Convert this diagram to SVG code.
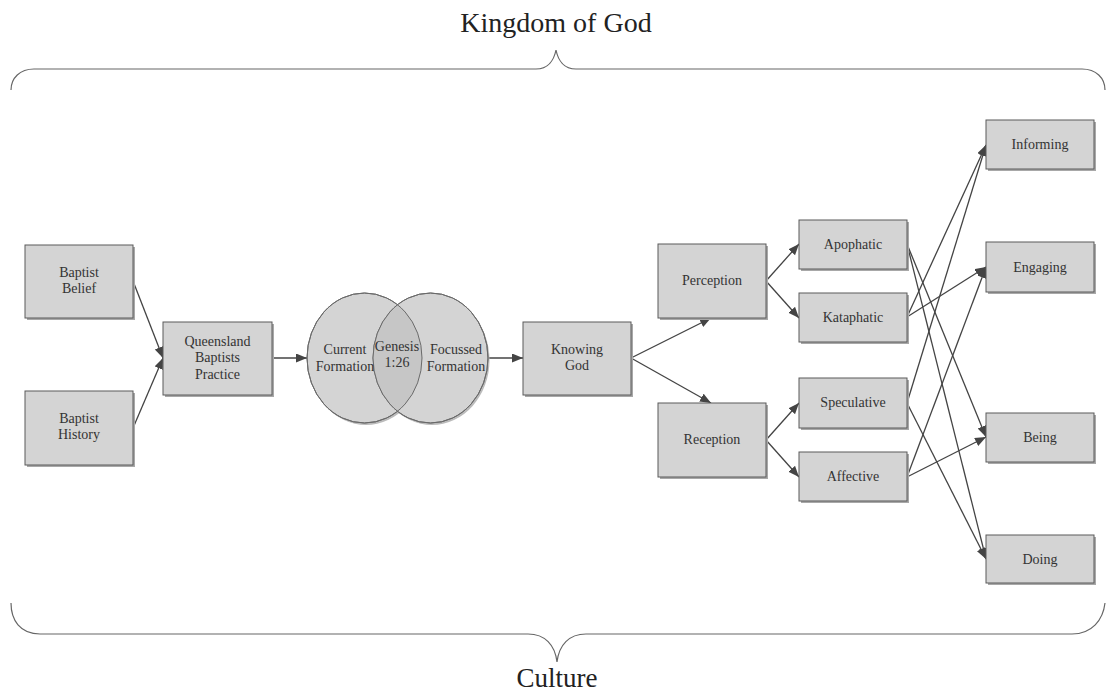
<svg xmlns="http://www.w3.org/2000/svg" width="1108" height="693" viewBox="0 0 1108 693">
  <style>
    .box { fill: #d4d4d4; stroke: #5a5a5a; stroke-width: 1; }
    .shadow { fill: #a8a8a8; }
    .lbl { font-family: "Liberation Serif", "Times New Roman", serif; font-size: 14px; fill: #333; text-anchor: middle; }
    .title { font-family: "Liberation Serif", "Times New Roman", serif; font-size: 28px; fill: #222; text-anchor: middle; }
    .edge { stroke: #444; stroke-width: 1.3; fill: none; marker-end: url(#arrow); }
    .brace { stroke: #666; stroke-width: 1.2; fill: none; }
    .circ { fill: #d4d4d4; stroke: #6a6a6a; stroke-width: 1; }
  </style>
  <defs>
    <marker id="arrow" markerUnits="userSpaceOnUse" markerWidth="12" markerHeight="10" refX="11" refY="4.5" orient="auto">
      <path d="M0,0 L11,4.5 L0,9 z" fill="#444"/>
    </marker>
    <clipPath id="leftClip">
      <ellipse cx="364.5" cy="358" rx="57.5" ry="65"/>
    </clipPath>
  </defs>
  <rect width="1108" height="693" fill="#fff"/>

  <!-- braces and outer labels -->
  <g id="kingdom">
    <text class="title" x="556" y="32">Kingdom of God</text>
    <path class="brace" d="M11,90 C11,78 20,69 34,69 L536,69 C548,69 554,60 556,50 C558,60 564,69 576,69 L1082,69 C1096,69 1105,78 1105,90"/>
  </g>
  <g id="culture">
    <path class="brace" d="M11,603 C11,620 20,634 40,634 L528,634 C545,634 555,645 557,662 C559,645 569,634 586,634 L1072,634 C1092,634 1103,620 1105,603"/>
    <text class="title" x="557" y="687" style="font-size:27px">Culture</text>
  </g>

  <!-- connectors -->
  <g id="connectors">
    <line class="edge" x1="133" y1="281" x2="163" y2="358"/>
    <line class="edge" x1="133" y1="428" x2="163" y2="358"/>
    <line class="edge" x1="272" y1="358" x2="307" y2="358"/>
    <line class="edge" x1="488" y1="358" x2="523" y2="358"/>
    <line class="edge" x1="631" y1="358" x2="711" y2="318"/>
    <line class="edge" x1="631" y1="358" x2="711" y2="403"/>
    <line class="edge" x1="766" y1="281" x2="799" y2="244"/>
    <line class="edge" x1="766" y1="281" x2="799" y2="318"/>
    <line class="edge" x1="766" y1="440" x2="799" y2="403"/>
    <line class="edge" x1="766" y1="440" x2="799" y2="477"/>
    <line class="edge" x1="907" y1="244" x2="986" y2="437"/>
    <line class="edge" x1="907" y1="244" x2="986" y2="559"/>
    <line class="edge" x1="907" y1="317" x2="986" y2="145"/>
    <line class="edge" x1="907" y1="317" x2="986" y2="267"/>
    <line class="edge" x1="907" y1="403" x2="986" y2="145"/>
    <line class="edge" x1="907" y1="403" x2="986" y2="559"/>
    <line class="edge" x1="907" y1="477" x2="986" y2="267"/>
    <line class="edge" x1="907" y1="477" x2="986" y2="437"/>
  </g>

  <!-- nodes -->
  <g id="baptist-belief">
    <rect class="shadow" x="27" y="247" width="108" height="73"/>
    <rect class="box" x="25" y="245" width="108" height="73"/>
    <text class="lbl" x="79" y="277">Baptist</text>
    <text class="lbl" x="79" y="293">Belief</text>
  </g>
  <g id="baptist-history">
    <rect class="shadow" x="27" y="393" width="108" height="74"/>
    <rect class="box" x="25" y="391" width="108" height="74"/>
    <text class="lbl" x="79" y="423">Baptist</text>
    <text class="lbl" x="79" y="439">History</text>
  </g>
  <g id="queensland-practice">
    <rect class="shadow" x="165" y="324" width="109" height="73"/>
    <rect class="box" x="163" y="322" width="109" height="73"/>
    <text class="lbl" x="217.5" y="346">Queensland</text>
    <text class="lbl" x="217.5" y="362">Baptists</text>
    <text class="lbl" x="217.5" y="379">Practice</text>
  </g>
  <g id="formation-venn">
    <ellipse cx="366" cy="360" rx="57.5" ry="65" fill="#bbb"/>
    <ellipse cx="432" cy="360" rx="57.5" ry="65" fill="#bbb"/>
    <ellipse class="circ" cx="364.5" cy="358" rx="57.5" ry="65"/>
    <ellipse class="circ" cx="430.5" cy="358" rx="57.5" ry="65"/>
    <ellipse cx="430.5" cy="358" rx="57.5" ry="65" fill="#c6c6c6" clip-path="url(#leftClip)"/>
    <ellipse cx="364.5" cy="358" rx="57.5" ry="65" fill="none" stroke="#6a6a6a" stroke-width="1"/>
    <ellipse cx="430.5" cy="358" rx="57.5" ry="65" fill="none" stroke="#6a6a6a" stroke-width="1"/>
    <text class="lbl" x="345" y="354">Current</text>
    <text class="lbl" x="345" y="371">Formation</text>
    <text class="lbl" x="397" y="351">Genesis</text>
    <text class="lbl" x="397" y="367">1:26</text>
    <text class="lbl" x="456" y="354">Focussed</text>
    <text class="lbl" x="456" y="371">Formation</text>
  </g>
  <g id="knowing-god">
    <rect class="shadow" x="525" y="324" width="108" height="73"/>
    <rect class="box" x="523" y="322" width="108" height="73"/>
    <text class="lbl" x="577" y="354">Knowing</text>
    <text class="lbl" x="577" y="370">God</text>
  </g>
  <g id="perception">
    <rect class="shadow" x="660" y="246" width="108" height="74"/>
    <rect class="box" x="658" y="244" width="108" height="74"/>
    <text class="lbl" x="712" y="285">Perception</text>
  </g>
  <g id="reception">
    <rect class="shadow" x="660" y="405" width="108" height="74"/>
    <rect class="box" x="658" y="403" width="108" height="74"/>
    <text class="lbl" x="712" y="444">Reception</text>
  </g>
  <g id="apophatic">
    <rect class="shadow" x="801" y="222" width="108" height="49"/>
    <rect class="box" x="799" y="220" width="108" height="49"/>
    <text class="lbl" x="853" y="249">Apophatic</text>
  </g>
  <g id="kataphatic">
    <rect class="shadow" x="801" y="295" width="108" height="49"/>
    <rect class="box" x="799" y="293" width="108" height="49"/>
    <text class="lbl" x="853" y="322">Kataphatic</text>
  </g>
  <g id="speculative">
    <rect class="shadow" x="801" y="380" width="108" height="50"/>
    <rect class="box" x="799" y="378" width="108" height="50"/>
    <text class="lbl" x="853" y="407">Speculative</text>
  </g>
  <g id="affective">
    <rect class="shadow" x="801" y="454" width="108" height="49"/>
    <rect class="box" x="799" y="452" width="108" height="49"/>
    <text class="lbl" x="853" y="481">Affective</text>
  </g>
  <g id="informing">
    <rect class="shadow" x="988" y="122" width="108" height="49"/>
    <rect class="box" x="986" y="120" width="108" height="49"/>
    <text class="lbl" x="1040" y="149">Informing</text>
  </g>
  <g id="engaging">
    <rect class="shadow" x="988" y="244" width="108" height="50"/>
    <rect class="box" x="986" y="242" width="108" height="50"/>
    <text class="lbl" x="1040" y="272">Engaging</text>
  </g>
  <g id="being">
    <rect class="shadow" x="988" y="415" width="108" height="49"/>
    <rect class="box" x="986" y="413" width="108" height="49"/>
    <text class="lbl" x="1040" y="442">Being</text>
  </g>
  <g id="doing">
    <rect class="shadow" x="988" y="537" width="108" height="48"/>
    <rect class="box" x="986" y="535" width="108" height="48"/>
    <text class="lbl" x="1040" y="564">Doing</text>
  </g>
</svg>
